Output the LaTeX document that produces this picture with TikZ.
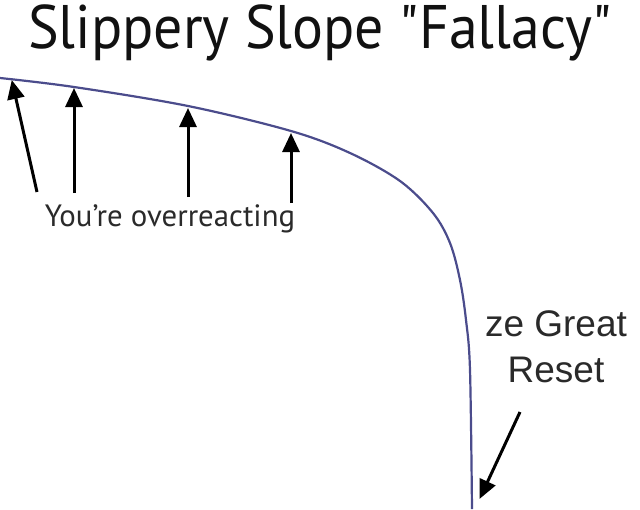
\documentclass[tikz,border=0pt]{standalone}
\usepackage{fontspec}
\usepackage{xcolor}
\usepackage{tikz}
\usetikzlibrary{arrows.meta}
\setmainfont{PT Sans}
\newfontfamily\titlefont[FakeStretch=0.94]{PT Sans}
\newfontfamily\resetfont{Liberation Sans}
\definecolor{slopeblue}{HTML}{4B4C8C}
\definecolor{labelgray}{HTML}{2A2A2A}
\definecolor{titleblack}{HTML}{111111}
\tikzset{
  slopeline/.style={
    draw=slopeblue,
    line width=2.2pt
  },
  pointarrow/.style={
    -{Triangle[length=19pt,width=17pt]},
    line width=3pt,
    draw=black,
    shorten >=-1pt
  },
  titletext/.style={
    text=titleblack,
    inner sep=0pt,
    font=\titlefont\fontsize{61.5}{70}\selectfont
  },
  slopelabel/.style={
    text=labelgray,
    inner sep=0pt,
    font=\fontsize{30.8}{36}\selectfont
  },
  resetlabel/.style={
    text=labelgray,
    inner sep=0pt,
    align=center,
    font=\resetfont\fontsize{37}{46}\selectfont
  }
}

\begin{document}
\begin{tikzpicture}[x=1pt,y=-1pt]
    \useasboundingbox[fill=white] (0,0) rectangle (640,509);

    \node[titletext, anchor=base] (title) at (320,48) {Slippery Slope \symbol{34}Fallacy\symbol{34}};

    \draw[slopeline] plot[smooth, tension=0.55] coordinates {
        (0,78) (74,87) (188,106) (291,131) (350,153) (400,181)
        (433,213) (450,243) (460,280) (466,320) (470,370) (472,509)
    };

    \coordinate (tipa) at (12,81);
    \coordinate (tipb) at (74,89);
    \coordinate (tipc) at (188,109);
    \coordinate (tipd) at (291,134);
    \coordinate (tipreset) at (480,498);

    \node[slopelabel, anchor=base] (overreact) at (170,226) {You’re overreacting};
    \node[resetlabel] (greatreset) at (556,347) {ze Great\\Reset};

    \coordinate (taila) at (37,192);
    \coordinate (tailb) at (74,193);
    \coordinate (tailc) at (188,197);
    \coordinate (taild) at (291,203);
    \coordinate (tailreset) at (520,412);

    \draw[pointarrow] (taila) -- (tipa);
    \draw[pointarrow] (tailb) -- (tipb);
    \draw[pointarrow] (tailc) -- (tipc);
    \draw[pointarrow] (taild) -- (tipd);
    \draw[pointarrow] (tailreset) -- (tipreset);
\end{tikzpicture}
\end{document}
